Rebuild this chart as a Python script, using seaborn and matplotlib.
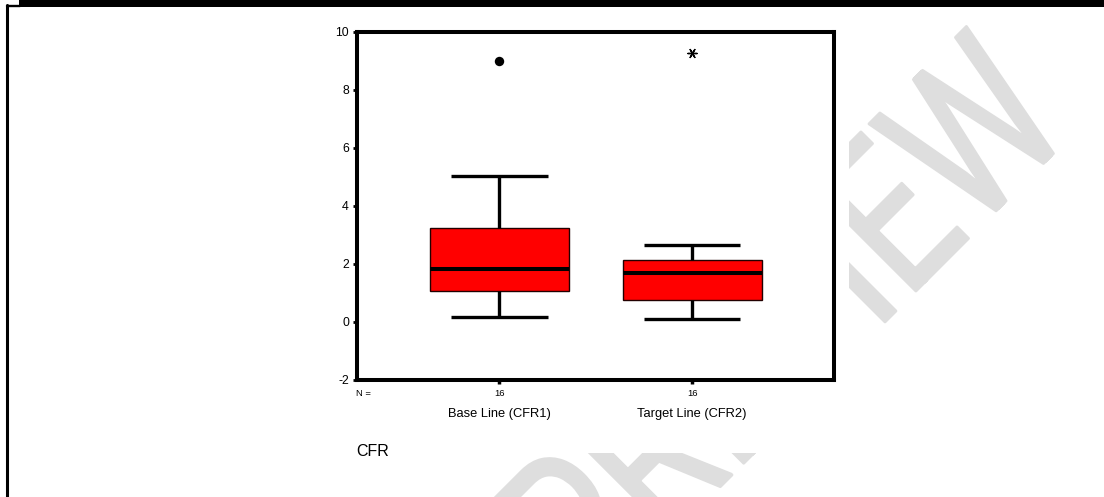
import numpy as np
import pandas as pd
import matplotlib.pyplot as plt
import seaborn as sns
from matplotlib.textpath import TextPath
from matplotlib.patches import PathPatch, Rectangle
from matplotlib.font_manager import FontProperties
from matplotlib.transforms import Affine2D, blended_transform_factory
from matplotlib.lines import Line2D

# data (box summary per group)
groups = ["Base Line (CFR1)", "Target Line (CFR2)"]
n_cases = [16, 16]
whisker_low = [0.16, 0.11]
q1 = [1.08, 0.75]
median = [1.81, 1.67]
q3 = [3.23, 2.13]
whisker_high = [5.04, 2.64]
outliers = [8.97, None]     # drawn as dots
extremes = [None, 9.26]     # drawn as asterisks
yticks = [-2, 0, 2, 4, 6, 8, 10]

sns.set_theme(style="ticks")
plt.rcParams["font.family"] = ["Liberation Sans", "DejaVu Sans"]

W, H = 1104, 497
fig = plt.figure(figsize=(W / 100, H / 100), dpi=100)
fig.patch.set_facecolor("white")
# image pixel coords (y down) -> figure
pix = Affine2D().scale(1 / W, -1 / H).translate(0, 1) + fig.transFigure

# watermark behind the chart
tp = TextPath((0, 0), "PREVIEW", size=213,
              prop=FontProperties(family=["Roboto", "DejaVu Sans"], weight="normal"))
ext = tp.get_extents()
sx = 672 / ext.width
tr = Affine2D().translate(-ext.x1, 0).scale(sx, -1).rotate_deg(-45).translate(1073.5, 133.5) + pix
fig.add_artist(PathPatch(tp, transform=tr, facecolor="#dedede", edgecolor="#dedede",
                         lw=2.0, joinstyle="round", capstyle="round", zorder=-3))
fig.add_artist(Rectangle((10, 8), 838.5, 444.5, transform=pix, facecolor="white",
                         edgecolor="none", zorder=-2))

# page border
fig.add_artist(Line2D([7.3, 7.3], [4.5, 497], transform=pix, color="black", lw=2.2, zorder=5))
fig.add_artist(Line2D([7.3, 20], [5.5, 5.5], transform=pix, color="black", lw=1.7, zorder=5))
fig.add_artist(Rectangle((19, 0), W - 19, 7.3, transform=pix, facecolor="black",
                         edgecolor="none", zorder=5))

ax = fig.add_axes([357 / W, (H - 380) / H, (834 - 357) / W, (380 - 31.5) / H])
ax.set_facecolor("white")

stats = []
for i, g in enumerate(groups):
    stats.append(dict(label=g, whislo=whisker_low[i], q1=q1[i], med=median[i],
                      q3=q3[i], whishi=whisker_high[i], fliers=[]))
pos = list(range(len(groups)))
ax.bxp(stats, positions=pos, widths=0.721, capwidths=0.5, patch_artist=True,
       showfliers=False,
       boxprops=dict(facecolor="#ff0000", edgecolor="#220000", linewidth=1.0),
       medianprops=dict(color="black", linewidth=2.9, solid_capstyle="butt"),
       whiskerprops=dict(color="black", linewidth=2.4, solid_capstyle="butt"),
       capprops=dict(color="black", linewidth=2.4, solid_capstyle="butt"))

out_df = pd.DataFrame({"x": [i for i, v in enumerate(outliers) if v is not None],
                       "y": [v for v in outliers if v is not None]})
ext_df = pd.DataFrame({"x": [i for i, v in enumerate(extremes) if v is not None],
                       "y": [v for v in extremes if v is not None]})
sns.scatterplot(data=out_df, x="x", y="y", marker="o", s=46, color="black",
                edgecolor="black", linewidth=0, ax=ax, zorder=4)
sns.scatterplot(data=ext_df, x="x", y="y", marker=(6, 2, 90), s=44, color="black",
                linewidth=1.0, ax=ax, zorder=4)

ax.set_xlim(-0.739, 1.736)
ax.set_ylim(-2, 10)
ax.set_yticks(yticks)
ax.set_yticklabels([str(t) for t in yticks])
ax.set_xticks(pos)
ax.set_xticklabels([str(n) for n in n_cases])
ax.set_xlabel("")
ax.set_ylabel("")
for s in ax.spines.values():
    s.set_visible(True)
    s.set_linewidth(2.9)
    s.set_color("black")
ax.tick_params(axis="y", direction="out", length=3.1, width=2, pad=2.7,
               labelsize=8.8, colors="black")
ax.tick_params(axis="x", direction="out", length=3.1, width=2.5, pad=3.5,
               labelsize=6.8, colors="black")

# labels under the n counts
bt = blended_transform_factory(ax.transData, pix)
for i, g in enumerate(groups):
    ax.text(pos[i], 414, g, transform=bt, ha="center", va="center", fontsize=9.3,
            color="black")
fig.text(356 / W, 1 - 394 / H, "N =", ha="left", va="center", fontsize=6.8, color="black")
fig.text(356 / W, 1 - 452 / H, "CFR", ha="left", va="center", fontsize=11.5, color="black")

fig.savefig("out.png", dpi=100)
